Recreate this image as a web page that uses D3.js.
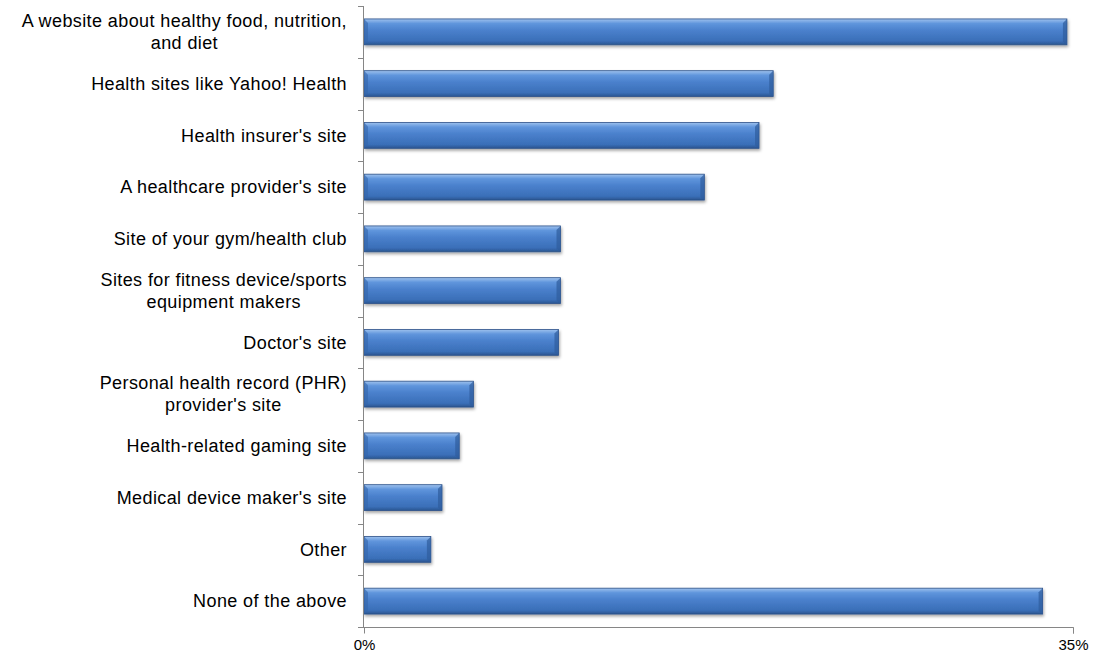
<!DOCTYPE html>
<html>
<head>
<meta charset="utf-8" />
<title>Health websites</title>
<style>
  body { margin: 0; background: #fff; }
  text { font-family: "Liberation Sans", Arial, sans-serif; fill: #000; }
</style>
</head>
<body>
<svg id="chart" width="1106" height="654"></svg>
<script src="https://d3js.org/d3.v7.min.js"></script>
<script>
// categories (multi-line labels split with |)
var categories = [
  "A website about healthy food, nutrition,|and diet",
  "Health sites like Yahoo! Health",
  "Health insurer's site",
  "A healthcare provider's site",
  "Site of your gym/health club ",
  "Sites for fitness device/sports|equipment makers",
  "Doctor's site",
  "Personal health record (PHR)|provider's site",
  "Health-related gaming site",
  "Medical device maker's site",
  "Other",
  "None of the above"
];
var values = [34.7, 20.2, 19.5, 16.8, 9.7, 9.7, 9.6, 5.4, 4.7, 3.85, 3.3, 33.5];
var tickValues = [0, 35];

var svg = d3.select("#chart");
var plotLeft = 364, plotRight = 1073, plotTop = 6, plotBottom = 627;

var x = d3.scaleLinear().domain([0, 35]).range([plotLeft, plotRight]);
var y = d3.scaleBand().domain(d3.range(categories.length)).range([plotTop, plotBottom]).paddingInner(0.5).paddingOuter(0.25);

var defs = svg.append("defs");
var grad = defs.append("linearGradient").attr("id", "barGrad")
  .attr("x1", 0).attr("y1", 0).attr("x2", 0).attr("y2", 1);
grad.append("stop").attr("offset", "0%").attr("stop-color", "#9fc2ee");
grad.append("stop").attr("offset", "18%").attr("stop-color", "#5f95dc");
grad.append("stop").attr("offset", "45%").attr("stop-color", "#4a80cc");
grad.append("stop").attr("offset", "85%").attr("stop-color", "#3a6fb8");
grad.append("stop").attr("offset", "100%").attr("stop-color", "#2a5590");

var shadow = defs.append("filter").attr("id", "shadow")
  .attr("x", "-5%").attr("y", "-30%").attr("width", "110%").attr("height", "170%");
shadow.append("feDropShadow").attr("dx", 1).attr("dy", 2).attr("stdDeviation", 1.5)
  .attr("flood-color", "#000").attr("flood-opacity", 0.35);

// bars
var bars = svg.append("g").selectAll("g.bar").data(values).enter().append("g").attr("class", "bar");
bars.append("rect")
  .attr("x", x(0))
  .attr("y", function(d, i) { return y(i); })
  .attr("width", function(d) { return x(d) - x(0); })
  .attr("height", y.bandwidth())
  .attr("fill", "url(#barGrad)")
  .attr("stroke", "#2d5289")
  .attr("stroke-width", 0.8)
  .attr("filter", "url(#shadow)");
// bevel at right end
bars.append("path")
  .attr("d", function(d, i) {
    var x1 = x(d), y0 = y(i), h = y.bandwidth();
    return "M" + x1 + "," + y0 + "L" + (x1 - 4) + "," + (y0 + 4) + "L" + (x1 - 4) + "," + (y0 + h - 3) + "L" + x1 + "," + (y0 + h) + "Z";
  })
  .attr("fill", "#2f5c9c").attr("opacity", 0.7);
// bevel at left end
bars.append("path")
  .attr("d", function(d, i) {
    var x0 = x(0), y0 = y(i), h = y.bandwidth();
    return "M" + x0 + "," + y0 + "L" + (x0 + 4) + "," + (y0 + 4) + "L" + (x0 + 4) + "," + (y0 + h - 3) + "L" + x0 + "," + (y0 + h) + "Z";
  })
  .attr("fill", "#3466aa").attr("opacity", 0.6);

// axes
var axisColor = "#868686";
svg.append("line").attr("x1", plotLeft - 0.5).attr("x2", plotLeft - 0.5).attr("y1", plotTop).attr("y2", plotBottom)
  .attr("stroke", axisColor);
svg.append("g").selectAll("line").data(d3.range(categories.length + 1)).enter().append("line")
  .attr("x1", plotLeft - 6).attr("x2", plotLeft)
  .attr("y1", function(i) { return Math.round(plotTop + i * (plotBottom - plotTop) / categories.length) + 0.5; })
  .attr("y2", function(i) { return Math.round(plotTop + i * (plotBottom - plotTop) / categories.length) + 0.5; })
  .attr("stroke", axisColor);

var xAxis = d3.axisBottom(x).tickValues(tickValues).tickSize(6).tickPadding(6).tickFormat(function(d) { return d + "%"; });
var gx = svg.append("g").attr("transform", "translate(0," + (plotBottom + 0.5) + ")").call(xAxis);
gx.attr("font-size", 15).attr("font-family", null);
gx.select(".domain").attr("stroke", axisColor).attr("d", "M" + (plotLeft - 0.5) + ",0H" + (plotRight + 0.5) + "V6");
gx.selectAll(".tick line").attr("stroke", axisColor);
gx.selectAll(".tick text").style("font-size", "15px").attr("fill", "#000");

// category labels
var labelRight = 347;
var lineH = 22;
var labels = svg.append("g").selectAll("text").data(categories).enter().append("text")
  .attr("font-size", 18)
  .attr("letter-spacing", 0.4)
  .attr("text-anchor", "middle");
labels.each(function(d, i) {
  var lines = d.split("|");
  var t = d3.select(this);
  var cy = y(i) + y.bandwidth() / 2;
  var y0 = cy - (lines.length - 1) * lineH / 2;
  lines.forEach(function(l, k) {
    t.append("tspan").attr("x", 0).attr("y", y0 + k * lineH).attr("dy", "0.35em").text(l.trim());
  });
  var w = this.getBBox().width;
  t.selectAll("tspan").attr("x", labelRight - w / 2);
});
</script>
</body>
</html>
